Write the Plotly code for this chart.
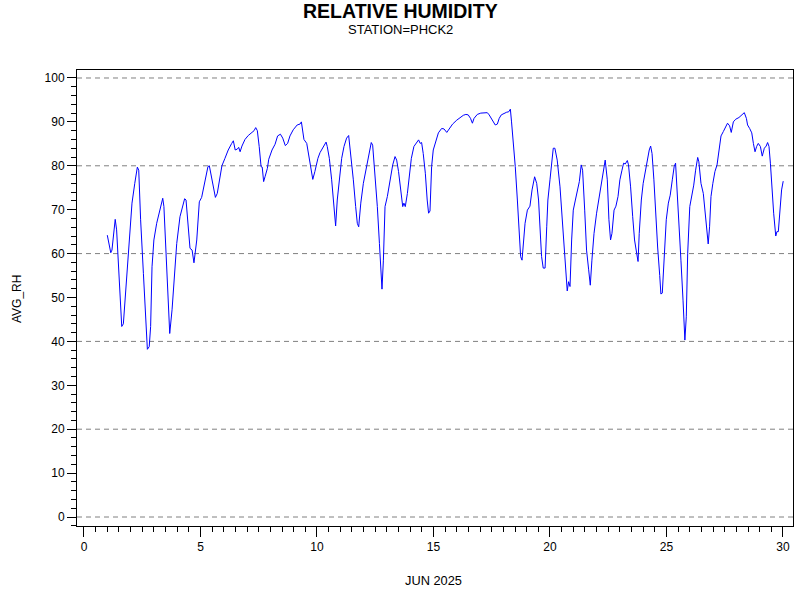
import plotly.graph_objects as go

day = [1.00, 1.15, 1.20, 1.34, 1.40, 1.62, 1.69, 1.83, 1.97, 2.06, 2.18, 2.29, 2.35, 2.43, 2.55, 2.63, 2.72, 2.80, 2.86, 2.92,
       3.00, 3.12, 3.26, 3.38, 3.43, 3.52, 3.60, 3.68, 3.78, 3.86, 3.98, 4.12, 4.24, 4.32, 4.38, 4.46, 4.55, 4.64, 4.72, 4.84,
       4.95, 5.05, 5.15, 5.24, 5.32, 5.38, 5.52, 5.64, 5.72, 5.84, 5.92, 6.05, 6.19, 6.34, 6.41, 6.49, 6.58, 6.64, 6.70, 6.78,
       6.91, 7.05, 7.20, 7.30, 7.37, 7.44, 7.52, 7.60, 7.65, 7.71, 7.77, 7.87, 7.93, 8.07, 8.20, 8.31, 8.43, 8.53, 8.64, 8.74,
       8.84, 8.98, 9.15, 9.27, 9.33, 9.39, 9.44, 9.56, 9.64, 9.73, 9.82, 9.91, 10.04, 10.13, 10.24, 10.31, 10.39, 10.44, 10.53, 10.63,
       10.73, 10.80, 10.87, 10.96, 11.06, 11.16, 11.27, 11.36, 11.45, 11.56, 11.66, 11.73, 11.79, 11.88, 11.99, 12.13, 12.25, 12.33, 12.39, 12.48,
       12.59, 12.68, 12.75, 12.79, 12.85, 12.92, 13.02, 13.13, 13.25, 13.35, 13.42, 13.50, 13.59, 13.68, 13.73, 13.79, 13.88, 13.96, 14.05, 14.16,
       14.28, 14.36, 14.43, 14.49, 14.56, 14.65, 14.73, 14.79, 14.85, 14.92, 14.99, 15.11, 15.21, 15.35, 15.45, 15.57, 15.68, 15.82, 16.00, 16.17,
       16.28, 16.39, 16.49, 16.59, 16.67, 16.74, 16.88, 17.03, 17.17, 17.31, 17.39, 17.48, 17.57, 17.65, 17.74, 17.82, 17.91, 18.03, 18.14, 18.23,
       18.30, 18.35, 18.42, 18.51, 18.60, 18.68, 18.74, 18.80, 18.85, 18.93, 19.03, 19.14, 19.23, 19.34, 19.43, 19.51, 19.60, 19.64, 19.71, 19.79,
       19.86, 19.91, 20.00, 20.07, 20.14, 20.21, 20.31, 20.43, 20.54, 20.64, 20.74, 20.80, 20.86, 20.93, 21.00, 21.09, 21.17, 21.26, 21.34, 21.40,
       21.49, 21.57, 21.66, 21.73, 21.80, 21.89, 22.00, 22.12, 22.23, 22.32, 22.37, 22.46, 22.53, 22.60, 22.66, 22.75, 22.83, 22.92, 23.00, 23.09,
       23.16, 23.23, 23.32, 23.37, 23.46, 23.55, 23.63, 23.72, 23.78, 23.83, 23.92, 24.00, 24.09, 24.18, 24.26, 24.32, 24.38, 24.46, 24.55, 24.62,
       24.71, 24.76, 24.82, 24.91, 24.99, 25.08, 25.16, 25.25, 25.33, 25.39, 25.45, 25.54, 25.62, 25.71, 25.76, 25.79, 25.85, 25.91, 26.00, 26.08,
       26.17, 26.25, 26.34, 26.39, 26.48, 26.58, 26.65, 26.74, 26.79, 26.85, 26.91, 26.99, 27.08, 27.17, 27.25, 27.34, 27.44, 27.54, 27.62, 27.71,
       27.78, 27.87, 27.97, 28.11, 28.25, 28.34, 28.43, 28.48, 28.57, 28.66, 28.73, 28.80, 28.87, 28.94, 29.03, 29.11, 29.20, 29.28, 29.34, 29.40,
       29.46, 29.52, 29.60, 29.69, 29.74, 29.80, 29.86, 29.94, 30.01]

avg_rh = [64.2, 60.2, 60.8, 67.8, 65.4, 43.4, 44.0, 54.7, 65.4, 71.5, 76.0, 79.7, 79.0, 67.7, 55.5, 46.4, 38.2, 38.8, 43.4, 57.0,
          63.1, 66.9, 69.9, 72.6, 70.7, 60.1, 49.4, 41.8, 47.2, 54.0, 62.3, 68.4, 70.7, 72.5, 72.2, 66.1, 61.2, 60.8, 57.9, 63.1,
          71.8, 72.8, 75.2, 77.5, 79.8, 80.0, 76.4, 72.8, 73.7, 77.5, 80.0, 81.7, 83.6, 85.1, 85.7, 83.6, 83.8, 84.2, 83.2, 84.5,
          86.0, 86.9, 87.5, 88.0, 88.7, 88.0, 84.4, 79.8, 79.7, 76.4, 77.5, 79.4, 81.5, 83.6, 84.9, 86.8, 87.2, 86.3, 84.6, 85.1,
          86.8, 88.2, 89.3, 89.5, 90.0, 88.3, 86.0, 85.1, 82.8, 79.4, 76.9, 78.7, 81.7, 83.0, 84.0, 84.4, 85.4, 84.4, 81.7, 76.8,
          70.7, 66.3, 72.2, 76.8, 81.7, 84.4, 86.3, 86.9, 82.8, 76.8, 70.7, 66.9, 66.1, 71.5, 76.0, 79.8, 82.5, 85.3, 84.7, 79.0,
          70.7, 62.3, 54.0, 51.9, 58.5, 70.7, 73.0, 76.8, 80.2, 82.1, 81.3, 78.7, 74.5, 70.7, 71.5, 70.7, 73.7, 78.3, 81.7, 84.4,
          85.5, 85.9, 85.1, 85.3, 82.8, 78.3, 72.2, 69.2, 69.7, 79.8, 83.6, 86.0, 87.5, 88.5, 88.4, 87.6, 88.5, 89.5, 90.4, 91.2,
          91.5, 91.7, 91.6, 90.8, 89.7, 90.8, 91.7, 92.0, 92.0, 92.1, 91.6, 90.8, 89.8, 89.3, 89.5, 90.8, 91.6, 92.0, 92.2, 92.3,
          92.9, 90.0, 85.9, 79.8, 72.2, 63.1, 59.3, 58.5, 61.6, 66.9, 69.9, 70.8, 74.5, 77.5, 76.0, 72.2, 63.1, 59.3, 56.7, 56.7,
          66.1, 72.2, 76.8, 81.3, 84.0, 84.0, 81.3, 75.2, 66.9, 58.5, 51.5, 53.6, 52.5, 63.1, 69.9, 72.2, 74.1, 76.4, 80.2, 79.0,
          69.9, 60.8, 56.3, 52.8, 58.5, 64.6, 69.2, 73.0, 77.5, 80.2, 81.3, 76.8, 67.7, 63.1, 64.6, 69.9, 70.8, 73.0, 76.8, 79.0,
          80.6, 80.4, 81.2, 80.2, 75.2, 68.4, 63.1, 60.1, 58.2, 64.6, 72.2, 76.0, 79.0, 81.7, 83.6, 84.5, 82.8, 76.8, 67.7, 61.5,
          55.0, 50.8, 51.0, 60.8, 67.7, 71.5, 73.3, 76.8, 79.8, 80.6, 75.2, 67.7, 58.5, 49.4, 42.6, 40.3, 45.6, 60.1, 70.7, 73.0,
          75.6, 79.0, 81.9, 80.9, 76.0, 73.7, 69.2, 63.9, 62.2, 66.1, 73.0, 76.0, 78.7, 80.2, 83.6, 86.8, 87.8, 88.8, 89.7, 89.1,
          87.6, 90.0, 90.6, 91.0, 91.6, 92.1, 90.8, 89.3, 88.5, 87.5, 85.1, 83.2, 84.4, 85.1, 84.4, 82.2, 84.0, 84.5, 85.3, 84.4,
          80.6, 75.2, 69.2, 64.0, 65.0, 65.0, 68.4, 74.5, 76.5]

x_ticks = [0, 5, 10, 15, 20, 25, 30]
y_ticks = [0, 10, 20, 30, 40, 50, 60, 70, 80, 90, 100]
grid_levels = [0, 20, 40, 60, 80, 100]

FONT = "Liberation Sans, Arial, sans-serif"
PAGE_CENTER = (400 - 77) / 716

fig = go.Figure()
fig.add_trace(go.Scatter(x=day, y=avg_rh, mode="lines",
                         line=dict(color="#0000FF", width=1), showlegend=False))

for g in grid_levels:
    fig.add_shape(type="line", xref="paper", x0=0, x1=1, yref="y", y0=g, y1=g,
                  line=dict(color="#808080", width=1, dash="5px,4px"), layer="below")

fig.update_layout(
    width=800, height=600,
    margin=dict(l=77, r=7, t=70, b=74),
    paper_bgcolor="white", plot_bgcolor="white",
    font=dict(family=FONT, size=12, color="black"),
    xaxis=dict(range=[-0.3, 30.43], tickvals=x_ticks, ticks="outside", ticklen=10,
               tickcolor="black", showgrid=False, zeroline=False,
               showline=True, linecolor="black", linewidth=1, mirror=True,
               minor=dict(ticks="outside", dtick=0.5, tick0=0, ticklen=5, tickcolor="black", showgrid=False),
               tickfont=dict(family=FONT, size=12, color="black")),
    yaxis=dict(range=[-2.05, 101.82], tickvals=y_ticks, ticks="outside", ticklen=9,
               tickcolor="black", showgrid=False, zeroline=False,
               showline=True, linecolor="black", linewidth=1, mirror=True,
               minor=dict(ticks="outside", dtick=2, tick0=0, ticklen=5, tickcolor="black", showgrid=False),
               tickfont=dict(family=FONT, size=12, color="black")),
    annotations=[
        dict(text="<b>RELATIVE HUMIDITY</b>", xref="paper", yref="paper", x=PAGE_CENTER, y=(526 - 11) / 456,
             xanchor="center", yanchor="middle", showarrow=False,
             font=dict(family=FONT, size=19.5, color="black")),
        dict(text="STATION=PHCK2", xref="paper", yref="paper", x=PAGE_CENTER, y=(526 - 30) / 456,
             xanchor="center", yanchor="middle", showarrow=False,
             font=dict(family=FONT, size=13, color="black")),
        dict(text="JUN 2025", xref="paper", yref="paper", x=(433.5 - 77) / 716, y=-(580 - 526) / 456,
             xanchor="center", yanchor="middle", showarrow=False,
             font=dict(family=FONT, size=12.8, color="black")),
        dict(text="AVG_RH", xref="paper", yref="paper", x=(17 - 77) / 716, y=(526 - 299) / 456,
             xanchor="center", yanchor="middle", showarrow=False, textangle=-90,
             font=dict(family=FONT, size=12, color="black")),
    ],
)

fig.write_html("out.html", config={"displayModeBar": False},
               post_script="document.body.style.margin='0';document.body.style.overflow='hidden';")
